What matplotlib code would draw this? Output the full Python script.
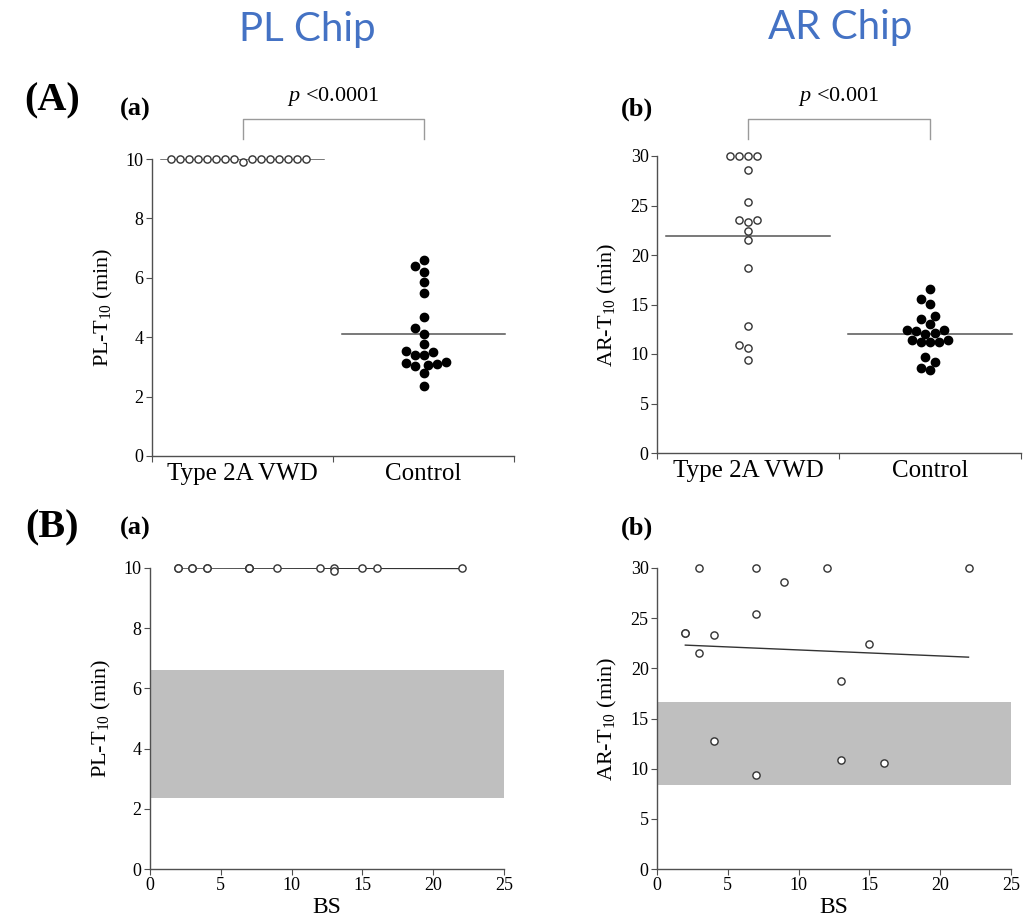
import matplotlib
matplotlib.use("Agg")
import matplotlib.pyplot as plt
import matplotlib.transforms as mtransforms
import numpy as np

plt.rcParams['font.family'] = ['Liberation Serif', 'DejaVu Serif']
plt.rcParams['mathtext.fontset'] = 'custom'
plt.rcParams['mathtext.rm'] = 'Liberation Serif'
plt.rcParams['mathtext.it'] = 'Liberation Serif:italic'

# ---- data ----
groups = ["Type 2A VWD", "Control"]

# type 2A VWD patients (same order in every panel)
vwd_bs = [2, 2, 3, 3, 4, 4, 7, 7, 7, 9, 12, 13, 13, 15, 16, 22]
vwd_pl = [10, 10, 10, 10, 10, 10, 10, 10, 10, 10, 10, 10, 9.9, 10, 10, 10]
vwd_ar = [23.5, 23.5, 30, 21.5, 23.3, 12.8, 30, 25.4, 9.4, 28.6, 30, 18.7, 10.9, 22.4, 10.6, 30]

# healthy controls
ctrl_pl = [6.6, 6.40, 6.20, 5.86, 5.49, 4.68, 4.31, 4.11, 3.77, 3.50,
           3.40, 3.40, 3.54, 3.13, 3.10, 3.03, 3.06, 3.16, 2.80, 2.36]
ctrl_ar = [16.6, 15.6, 15.1, 13.5, 13.8, 13.0, 12.4, 12.3, 12.4, 12.0,
           12.1, 11.4, 11.2, 11.2, 11.2, 11.4, 9.7, 9.2, 8.6, 8.4]

pl_ticks = [0, 2, 4, 6, 8, 10]
ar_ticks = [0, 5, 10, 15, 20, 25, 30]
bs_ticks = [0, 5, 10, 15, 20, 25]

W, H = 1033, 923
AX_COL = '#505050'
LINE_COL = '#555555'
BAND_COL = '#bfbfbf'
TITLE_COL = '#4472C4'


def swarm(values, y_scale, x_scale, d=9.0):
    # simple beeswarm: place each point at the smallest free offset (pixels)
    vals = np.asarray(values, dtype=float)
    order = np.argsort(vals, kind='stable')
    cand = [0.0]
    for j in range(1, 80):
        cand += [-j * d / 2, j * d / 2]
    placed = []
    offs = np.zeros(len(vals))
    for i in order:
        y = vals[i] * y_scale
        for c in cand:
            if all((c - px) ** 2 + (y - py) ** 2 >= 0.97 * d * d for px, py in placed):
                offs[i] = c / x_scale
                placed.append((c, y))
                break
    return offs


def style(ax, yticks, ylim):
    for s in ['top', 'right']:
        ax.spines[s].set_visible(False)
    for s in ['left', 'bottom']:
        ax.spines[s].set_color(AX_COL)
        ax.spines[s].set_linewidth(1.0)
    ax.set_ylim(*ylim)
    ax.set_yticks(yticks)
    ax.tick_params(axis='both', which='major', direction='out', length=4,
                   color=AX_COL, labelsize=13, pad=2)


def dot_panel(ax, data_a, data_b, yticks, ylim, ylabel, ax_h_px):
    style(ax, yticks, ylim)
    ax.set_xlim(0, 2)
    ax.set_xticks([0, 1, 2])
    ax.set_xticklabels([])
    ax.set_xticks([0.5, 1.5], minor=True)
    ax.set_xticklabels(groups, minor=True, fontsize=18)
    ax.tick_params(axis='x', which='minor', length=0, pad=5)
    y_scale = ax_h_px / (ylim[1] - ylim[0])
    x_scale = 181.0
    for pos, vals, filled in [(0.5, data_a, False), (1.5, data_b, True)]:
        offs = swarm(vals, y_scale, x_scale)
        ax.plot(pos + offs, vals, 'o', ms=6 if filled else 5.2,
                mfc='black' if filled else 'white', mec='black' if filled else '#333333',
                mew=1.0, ls='none', clip_on=False, zorder=3)
        m = np.mean(vals)
        ax.plot([pos - 0.45, pos + 0.45], [m, m], color=LINE_COL, lw=1.1, zorder=2)
    ax.set_ylabel(ylabel, fontsize=16, labelpad=8)


def bracket(ax, text, y_top, y_leg, y_text):
    tr = mtransforms.blended_transform_factory(ax.transData, ax.transAxes)
    ax.plot([0.5, 0.5, 1.5, 1.5], [y_leg, y_top, y_top, y_leg], color='#9a9a9a',
            lw=1.0, transform=tr, clip_on=False)
    ax.text(1.0, y_text, text, transform=tr, ha='center', va='center', fontsize=16)


def scatter_panel(ax, bs, vals, band, yticks, ylim, ylabel):
    style(ax, yticks, ylim)
    ax.set_xlim(0, 25)
    ax.set_xticks(bs_ticks)
    ax.axhspan(min(band), max(band), color=BAND_COL, lw=0, zorder=0)
    ax.plot(bs, vals, 'o', ms=5.2, mfc='white', mec='#333333', mew=1.0,
            ls='none', clip_on=False, zorder=3)
    k, b = np.polyfit(bs, vals, 1)
    xx = np.array([min(bs), max(bs)])
    ax.plot(xx, k * xx + b, color='#333333', lw=1.0, zorder=2)
    ax.set_xlabel('BS', fontsize=17, labelpad=2)
    ax.set_ylabel(ylabel, fontsize=16, labelpad=8)


fig = plt.figure(figsize=(W / 100, H / 100), dpi=100)


def add_ax(l, r, b, t):
    return fig.add_axes([l / W, (H - b) / H, (r - l) / W, (b - t) / H])


ax_aa = add_ax(152, 514, 456, 159)
ax_ab = add_ax(657, 1021, 453, 156)
ax_ba = add_ax(150, 504, 869, 568)
ax_bb = add_ax(657, 1011, 869, 568)

dot_panel(ax_aa, vwd_pl, ctrl_pl, pl_ticks, (0, 10), r'PL-T$_{10}$ (min)', 297)
dot_panel(ax_ab, vwd_ar, ctrl_ar, ar_ticks, (0, 30), r'AR-T$_{10}$ (min)', 297)
bracket(ax_aa, r'$p$ <0.0001', 1.135, 1.067, 1.21)
bracket(ax_ab, r'$p$ <0.001', 1.125, 1.057, 1.20)

scatter_panel(ax_ba, vwd_bs, vwd_pl, ctrl_pl, pl_ticks, (0, 10), r'PL-T$_{10}$ (min)')
scatter_panel(ax_bb, vwd_bs, vwd_ar, ctrl_ar, ar_ticks, (0, 30), r'AR-T$_{10}$ (min)')

# panel letters and column titles
def ftext(x, y, s, **kw):
    fig.text(x / W, 1 - y / H, s, ha='center', va='center', **kw)

ftext(52, 101, '(A)', fontsize=29, fontweight='bold')
ftext(52, 528, '(B)', fontsize=29, fontweight='bold')
ftext(135, 109, '(a)', fontsize=19, fontweight='bold')
ftext(637, 109, '(b)', fontsize=19, fontweight='bold')
ftext(135, 528, '(a)', fontsize=19, fontweight='bold')
ftext(637, 528, '(b)', fontsize=19, fontweight='bold')
ftext(307, 30, 'PL Chip', fontsize=29, color=TITLE_COL, family='Lato')
ftext(840, 27, 'AR Chip', fontsize=29, color=TITLE_COL, family='Lato')

fig.savefig('out.png', dpi=100)
